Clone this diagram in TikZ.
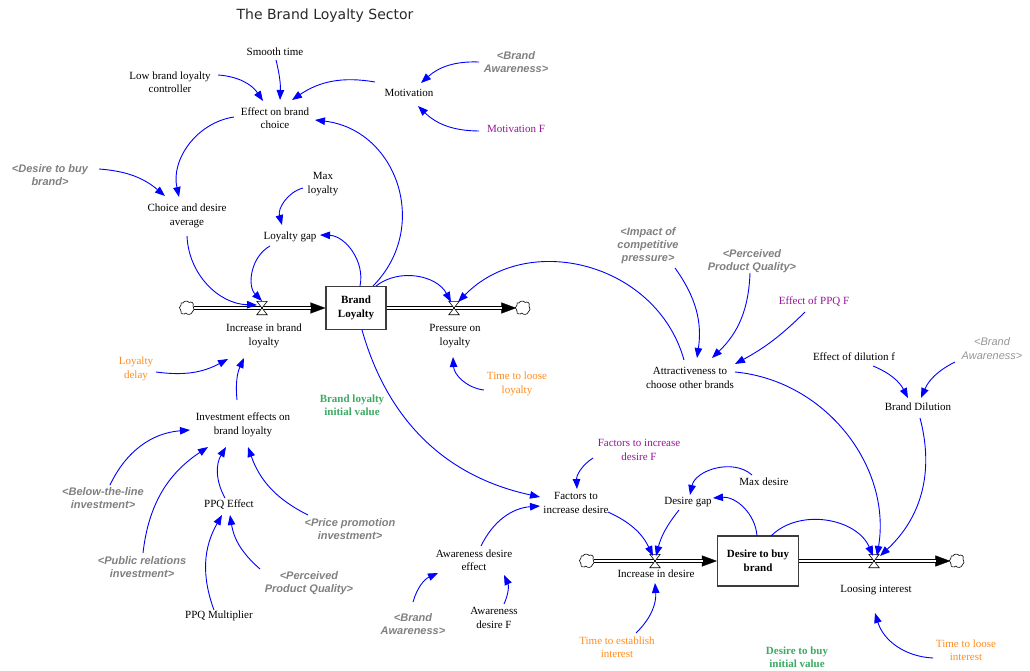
\documentclass[tikz,border=0pt]{standalone}
\usepackage{fontspec}
\setmainfont{Liberation Serif}
\setsansfont{Liberation Sans}
\newfontfamily\titlefont{DejaVu Sans}
\usetikzlibrary{arrows.meta,shapes.symbols,calc}
\definecolor{linkblue}{RGB}{0,0,255}
\definecolor{shadowgray}{RGB}{128,128,128}
\definecolor{shadowlight}{RGB}{150,150,150}
\definecolor{consto}{RGB}{255,140,30}
\definecolor{constp}{RGB}{150,20,150}
\definecolor{constg}{RGB}{60,170,100}
\definecolor{boxgray}{RGB}{60,60,60}
\newcommand\lk[5]{\draw[lnk,#5] ([shift={(#2)}]#1.center) to ([shift={(#4)}]#3.center);}
\tikzset{
  var/.style={font=\fontsize{11}{13.5}\selectfont, align=center, inner sep=1pt},
  shd/.style={font=\sffamily\bfseries\itshape\fontsize{11}{13}\selectfont, align=center, inner sep=1pt, text=shadowgray},
  shdl/.style={font=\sffamily\itshape\fontsize{11}{14}\selectfont, align=center, inner sep=1pt, text=shadowlight},
  co/.style={var, text=consto},
  cp/.style={var, text=constp},
  cg/.style={font=\bfseries\fontsize{11}{13}\selectfont, align=center, inner sep=1pt, text=constg},
  stock/.style={draw=boxgray, line width=1.2pt, font=\bfseries\fontsize{11}{14}\selectfont, align=center, inner sep=1pt},
  cloudn/.style={minimum width=13pt, minimum height=12pt, inner sep=0pt},
  valve/.style={minimum width=10pt, minimum height=13pt, inner sep=0pt},
  lnk/.style={draw=linkblue, line width=0.9pt, -{Triangle[length=10pt,width=7.5pt]}, fill=none},
  pipehead/.style={line width=0.3pt, -{Triangle[length=15pt,width=11pt]}},
  pipe/.style={double=white, double distance=2pt, line width=1.1pt, shorten >=14pt},
  ttl/.style={font=\titlefont\fontsize{14}{16}\selectfont, text={rgb,255:red,40;green,40;blue,40}, inner sep=0pt}
}
\begin{document}
\begin{tikzpicture}[x=1pt,y=-1pt]
\useasboundingbox (0,0) rectangle (1030,671);
% nodes
\node[ttl] (title) at (325,16) {The Brand Loyalty Sector};
\node[var] (smooth) at (275,52) {Smooth time};
\node[var] (lowbl) at (170,82) {Low brand loyalty\\controller};
\node[var] (effect) at (275,118) {Effect on brand\\choice};
\node[var] (motiv) at (409,93) {Motivation};
\node[shd] (ba1) at (516,62) {<Brand\\Awareness>};
\node[cp] (motivF) at (516,129) {Motivation F};
\node[shd] (dtb) at (50,175) {<Desire to buy\\brand>};
\node[var] (choice) at (187,216) {Choice and desire\\average};
\node[var] (maxloy) at (323,184) {Max\\loyalty};
\node[var] (lgap) at (290,237) {Loyalty gap};
\node[stock, minimum width=60pt, minimum height=43pt] (BL) at (356,308) {Brand\\Loyalty};
\node[cloudn] (cl1) at (187,308) {};
\node[valve] (v1) at (262,308) {};
\node[var] (inc1) at (264,336) {Increase in brand\\loyalty};
\node[valve] (v2) at (454,308) {};
\node[cloudn] (cl2) at (523,308) {};
\node[var] (press) at (455,336) {Pressure on\\loyalty};
\node[co] (loydelay) at (136,369) {Loyalty\\delay};
\node[co] (tlloy) at (517,384) {Time to loose\\loyalty};
\node[cg] (blinit) at (352,405) {Brand loyalty\\initial value};
\node[var] (invest) at (243,425) {Investment effects on\\brand loyalty};
\node[shd] (below) at (103,498) {<Below-the-line\\investment>};
\node[var] (ppqeff) at (229,505) {PPQ Effect};
\node[shd] (price) at (350,529) {<Price promotion\\investment>};
\node[shd] (pubrel) at (142,567) {<Public relations\\investment>};
\node[shd] (pq1) at (309,583) {<Perceived\\Product Quality>};
\node[var] (ppqmult) at (219,616) {PPQ Multiplier};
\node[shd] (impact) at (648,246) {<Impact of\\competitive\\pressure>};
\node[shd] (pq2) at (752,261) {<Perceived\\Product Quality>};
\node[cp] (effppqF) at (814,302) {Effect of PPQ F};
\node[var] (attract) at (690,378) {Attractiveness to\\choose other brands};
\node[var] (dilf) at (854,357) {Effect of dilution f};
\node[shdl] (ba2) at (992,349) {<Brand\\Awareness>};
\node[var] (bdil) at (918,407) {Brand Dilution};
\node[cp] (fidF) at (639,450) {Factors to increase\\desire F};
\node[var] (fid) at (576,503) {Factors to\\increase desire};
\node[var] (dgap) at (688,502) {Desire gap};
\node[var] (maxdes) at (764,482) {Max desire};
\node[var] (awde) at (474,560) {Awareness desire\\effect};
\node[shd] (ba3) at (413,624) {<Brand\\Awareness>};
\node[var] (awdF) at (494,618) {Awareness\\desire F};
\node[stock, minimum width=81pt, minimum height=50pt] (DB) at (758,561) {Desire to buy\\brand};
\node[cloudn] (cl3) at (587,561) {};
\node[valve] (v3) at (655,561) {};
\node[var] (incdes) at (656,574) {Increase in desire};
\node[valve] (v4) at (874,561) {};
\node[cloudn] (cl4) at (957,561) {};
\node[var] (loosing) at (876,590) {Loosing interest};
\node[co] (tei) at (617,647) {Time to establish\\interest};
\node[cg] (dbinit) at (797,657) {Desire to buy\\initial value};
\node[co] (tli) at (966,650) {Time to loose\\interest};
% pipes
\draw[pipehead] (cl1) -- (BL);
\draw[pipe] (cl1) -- (BL);
\draw[pipehead] (BL) -- (cl2);
\draw[pipe] (BL) -- (cl2);
\draw[pipehead] (cl3) -- (DB);
\draw[pipe] (cl3) -- (DB);
\draw[pipehead] (DB) -- (cl4);
\draw[pipe] (DB) -- (cl4);
% clouds
\foreach \c in {cl1,cl2,cl3,cl4}
  \draw[fill=white, line width=0.6pt, shift={(\c.center)}]
    (-4,-5) .. controls (-3,-7.5) and (1,-7.5) .. (2,-5.5)
    .. controls (4,-7) and (7.5,-5) .. (6,-2)
    .. controls (7.5,0) and (7.5,3) .. (5,4.5)
    .. controls (4,7) and (0,7) .. (-1,5)
    .. controls (-3,7) and (-7,6) .. (-6,3)
    .. controls (-8,1) and (-8,-2) .. (-6,-3)
    .. controls (-7,-5) and (-5,-6) .. (-4,-5) -- cycle;
% valves
\foreach \v in {v1,v2,v3,v4}
  \draw[fill=white, line width=0.6pt] (\v.north west) -- (\v.north east) -- (\v.south west) -- (\v.south east) -- cycle;
% links
\lk{smooth}{1,8}{effect}{5,-18}{bend left=8}
\lk{lowbl}{48,-7}{effect}{-12,-17}{bend left=26}
\lk{motiv}{-34,-11}{effect}{17,-18}{bend right=22}
\lk{ba1}{-37,0}{motiv}{12,-10}{bend right=22}
\lk{motivF}{-37,2}{motiv}{9,13}{bend left=22}
\lk{effect}{-41,-1}{choice}{-8,-19}{bend right=47}
\lk{dtb}{49,-6}{choice}{-22,-20}{bend left=18}
\lk{BL}{17,-22}{effect}{40,2}{bend right=64, looseness=1.2}
\lk{maxloy}{-20,4}{lgap}{-8,-12}{bend right=45}
\lk{BL}{4,-22}{lgap}{30,-2}{bend right=50}
\lk{lgap}{-20,9}{v1}{0,-7}{bend right=53}
\lk{choice}{0,20}{v1}{-5,-3}{bend right=43}
\lk{BL}{20,-22}{v2}{-3,-6}{bend left=50}
\lk{attract}{-6,-18}{v2}{4,-6}{bend right=60, looseness=1.1}
\lk{tlloy}{-33,6}{press}{-2,21}{bend left=40}
\lk{loydelay}{20,3}{inc1}{-36,23}{bend right=18}
\lk{invest}{-6,-25}{inc1}{-20,22}{bend left=15}
\lk{below}{7,-13}{invest}{-53,5}{bend left=30}
\lk{pubrel}{1,-14}{invest}{-35,22}{bend left=25}
\lk{ppqeff}{-4,-7}{invest}{-17,22}{bend left=30}
\lk{price}{-42,-14}{invest}{5,22}{bend left=22}
\lk{ppqmult}{-5,-6}{ppqeff}{-7,10}{bend left=25}
\lk{pq1}{-49,-14}{ppqeff}{1,10}{bend left=20}
\lk{BL}{6,22}{fid}{-36,-6}{bend right=31}
\lk{awde}{7,-14}{fid}{-36,3}{bend left=30}
\lk{fidF}{-46,8}{fid}{1,-14}{bend right=30}
\lk{fid}{32,9}{v3}{-2,-5}{bend left=20}
\lk{dgap}{-9,8}{v3}{1,-5}{bend right=12}
\lk{maxdes}{-12,-7}{dgap}{2,-7}{bend right=60}
\lk{DB}{-1,-25}{dgap}{25,-4}{bend right=45}
\lk{DB}{13,-25}{v4}{-1,-5}{bend left=56}
\lk{attract}{45,-6}{v4}{3,-5}{bend left=47}
\lk{bdil}{2,11}{v4}{6,-5}{bend left=31}
\lk{dilf}{19,9}{bdil}{-10,-9}{bend left=20}
\lk{ba2}{-37,13}{bdil}{3,-9}{bend right=20}
\lk{tei}{19,-14}{incdes}{-1,9}{bend right=25}
\lk{tli}{-33,8}{loosing}{-1,23}{bend left=35}
\lk{awdF}{10,-14}{awde}{30,15}{bend right=25}
\lk{ba3}{0,-22}{awde}{-36,13}{bend left=25}
\lk{impact}{27,22}{attract}{7,-20}{bend left=22}
\lk{pq2}{-2,12}{attract}{22,-20}{bend left=22}
\lk{effppqF}{-9,10}{attract}{45,-14}{bend left=8}
\end{tikzpicture}
\end{document}
